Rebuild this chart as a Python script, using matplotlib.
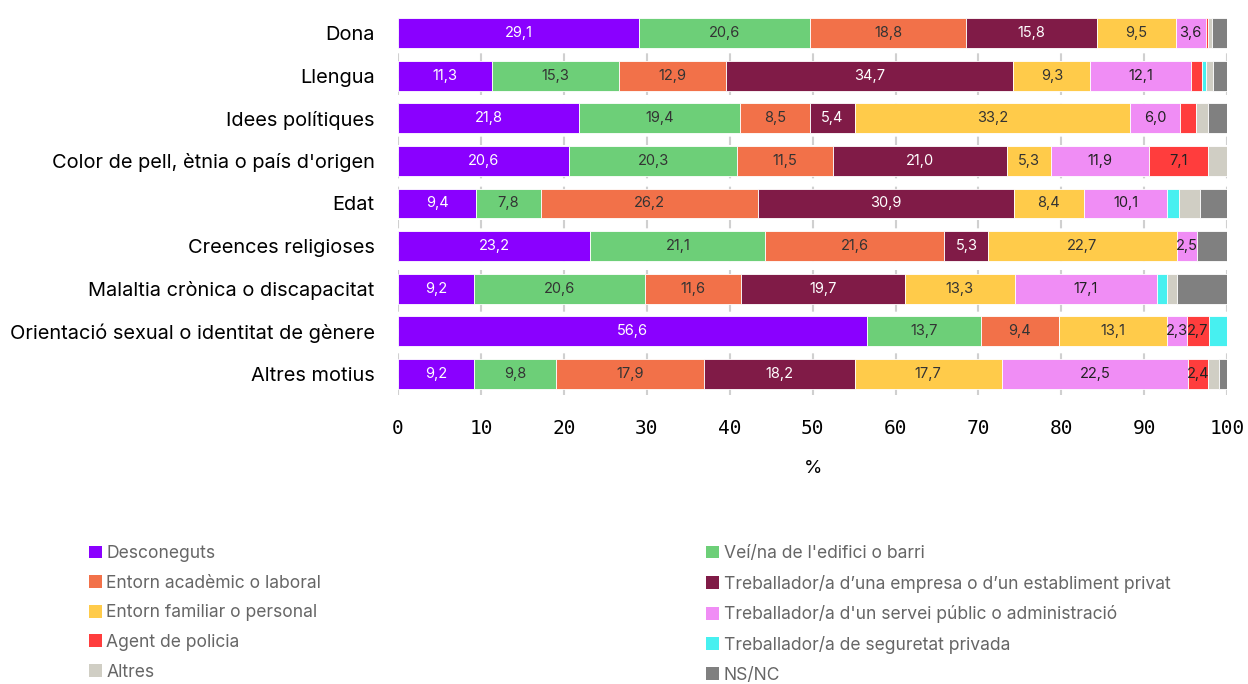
import matplotlib

matplotlib.use("Agg")

import matplotlib.pyplot as plt
from matplotlib.patches import Patch
import numpy as np

plt.rcParams["font.family"] = ["Inter", "DejaVu Sans"]

categories = [
    "Dona",
    "Llengua",
    "Idees polítiques",
    "Color de pell, ètnia o país d'origen",
    "Edat",
    "Creences religioses",
    "Malaltia crònica o discapacitat",
    "Orientació sexual o identitat de gènere",
    "Altres motius",
]

series_names = [
    "Desconeguts",
    "Veí/na de l'edifici o barri",
    "Entorn acadèmic o laboral",
    "Treballador/a d’una empresa o d’un establiment privat",
    "Entorn familiar o personal",
    "Treballador/a d'un servei públic o administració",
    "Agent de policia",
    "Treballador/a de seguretat privada",
    "Altres",
    "NS/NC",
]

desconeguts = [29.1, 11.3, 21.8, 20.6, 9.4, 23.2, 9.2, 56.6, 9.2]
veins = [20.6, 15.3, 19.4, 20.3, 7.8, 21.1, 20.6, 13.7, 9.8]
academic = [18.8, 12.9, 8.5, 11.5, 26.2, 21.6, 11.6, 9.4, 17.9]
privat = [15.8, 34.7, 5.4, 21.0, 30.9, 5.3, 19.7, 0.0, 18.2]
familiar = [9.5, 9.3, 33.2, 5.3, 8.4, 22.7, 13.3, 13.1, 17.7]
public = [3.6, 12.1, 6.0, 11.9, 10.1, 2.5, 17.1, 2.3, 22.5]
policia = [0.3, 1.4, 1.9, 7.1, 0.0, 0.0, 0.0, 2.7, 2.4]
seguretat = [0.0, 0.4, 0.0, 0.0, 1.4, 0.0, 1.3, 2.2, 0.0]
altres = [0.5, 0.9, 1.5, 2.4, 2.5, 0.0, 1.2, 0.0, 1.3]
nsnc = [1.8, 1.7, 2.3, 0.0, 3.3, 3.6, 6.0, 0.0, 1.0]

series = [desconeguts, veins, academic, privat, familiar, public, policia, seguretat, altres, nsnc]

colors = ["#8a00ff", "#6dcf78", "#f27149", "#801b47", "#ffcb4a",
          "#f08df5", "#ff3d3d", "#47f0f0", "#d0cec4", "#808080"]
text_colors = ["white", "#333333", "#333333", "white", "#333333",
               "#222222", "#222222", "#222222", "#222222", "#222222"]
labelled = [True, True, True, True, True, True, True, False, False, False]

fig = plt.figure(figsize=(12.48, 6.84), dpi=100)
ax = fig.add_axes([0.319, 0.422, 0.6643, 0.561])

y = np.arange(len(categories))
left = np.zeros(len(categories))
for name, vals, col, tcol, lab in zip(series_names, series, colors, text_colors, labelled):
    vals = np.array(vals)
    ax.barh(y, vals, left=left, height=0.7, color=col, edgecolor="white",
            linewidth=0.6, label=name, zorder=2)
    if lab:
        for yi, (l, v) in enumerate(zip(left, vals)):
            if v >= 2.3:
                ax.text(l + v / 2, yi, f"{v:.1f}".replace(".", ","), ha="center",
                        va="center", fontsize=10.5, color=tcol, zorder=3)
    left += vals

ax.set_xlim(0, 100)
ax.set_ylim(len(categories) - 0.5, -0.5)
ax.set_yticks(y)
ax.set_yticklabels(categories, fontsize=14.4)
ax.set_xticks(np.arange(0, 101, 10))
ax.tick_params(axis="x", labelsize=14, pad=17, length=0)
for t in ax.get_xticklabels():
    t.set_family("DejaVu Sans Mono")
ax.tick_params(axis="y", length=0, pad=17)
ax.set_xlabel("%", fontsize=13.5, labelpad=16)
for s in ax.spines.values():
    s.set_visible(False)
ax.grid(axis="x", color="#d0d0d0", linestyle=(0, (4, 4)), linewidth=1.5, zorder=0)
ax.set_axisbelow(True)

handles = [Patch(facecolor=c, edgecolor="none") for c in colors]
for col_idx, xpos in enumerate([0.071, 0.566]):
    idx = list(range(col_idx, len(series_names), 2))
    fig.legend([handles[i] for i in idx], [series_names[i] for i in idx],
               loc="upper left", bbox_to_anchor=(xpos, 0.203), frameon=False,
               fontsize=12.6, labelcolor="#666666", handlelength=0.75, handleheight=0.75,
               handletextpad=0.25, labelspacing=0.72, borderaxespad=0, borderpad=0)

fig.savefig("out.png", dpi=100)
plt.close(fig)
